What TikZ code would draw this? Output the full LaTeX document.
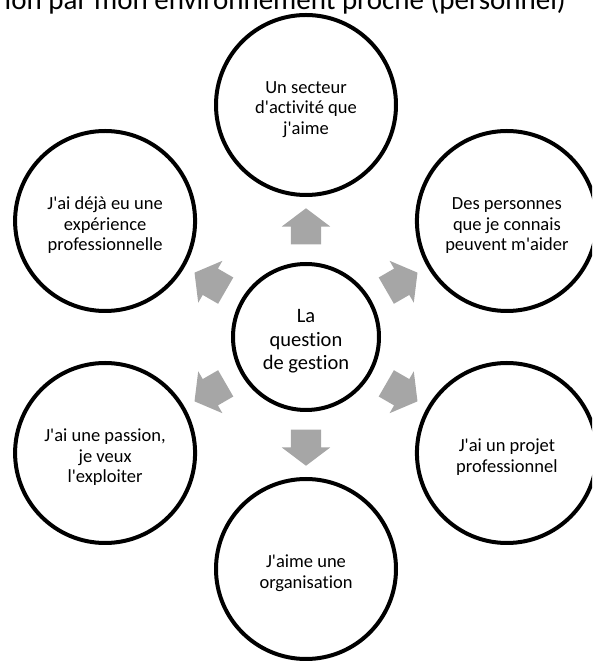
\documentclass[tikz,border=0pt]{standalone}
\usepackage{fontspec}
\setmainfont{Carlito}[Ligatures={TeXOff,NoCommon}]
\usetikzlibrary{calc,shapes.arrows}

\definecolor{flechegris}{HTML}{A6A6A6}
\newcommand{\haut}{\rule{0pt}{21pt}}

\begin{document}
\begin{tikzpicture}
   [x=1pt,y=1pt,
   every node/.style={inner sep=0pt,align=center,font=\fontsize{18.5}{20.7}\selectfont},
   choix/.style={circle,draw,line width=4pt,minimum size=180pt},
   fleche/.style={single arrow,fill=flechegris,minimum height=36pt,minimum width=48pt,
      inner xsep=0pt,inner ysep=15pt,single arrow head extend=9pt,single arrow tip angle=106}]

   \path[use as bounding box,clip] (0,0) rectangle (592,661);

   \node[anchor=base east,font=\fontsize{29}{34}\selectfont] (titre) at (566,651)
      {ion par mon environnement proche (personnel)};

   \node[circle,draw,line width=4pt,minimum size=146pt,font=\fontsize{20.5}{23.7}\selectfont]
      (question) at (306,324) {\rule{0pt}{22pt}La\\question\\de gestion};

   \node[choix] (secteur)    at ($(question)+(90:232)$)   {\haut Un secteur\\d'activité que\\j'aime};
   \node[choix] (personnes)  at ($(question)+(30:232)$)   {\haut Des personnes\\que je connais\\peuvent m'aider};
   \node[choix] (projet)     at ($(question)+(-30:232)$)  {\haut J'ai un projet\\professionnel};
   \node[choix] (organis)    at ($(question)+(-90:232)$)  {\haut J'aime une\\organisation};
   \node[choix] (passion)    at ($(question)+(-150:232)$) {\haut J'ai une passion,\\je veux\\l'exploiter};
   \node[choix] (experience) at ($(question)+(150:232)$)  {\haut J'ai déjà eu une\\expérience\\professionnelle};

   \node[fleche,rotate=90]   (f1) at ($(question)!105pt!(secteur)$)    {};
   \node[fleche,rotate=30]   (f2) at ($(question)!105pt!(personnes)$)  {};
   \node[fleche,rotate=-30]  (f3) at ($(question)!105pt!(projet)$)     {};
   \node[fleche,rotate=-90]  (f4) at ($(question)!105pt!(organis)$)    {};
   \node[fleche,rotate=-150] (f5) at ($(question)!105pt!(passion)$)    {};
   \node[fleche,rotate=150]  (f6) at ($(question)!105pt!(experience)$) {};
\end{tikzpicture}
\end{document}
